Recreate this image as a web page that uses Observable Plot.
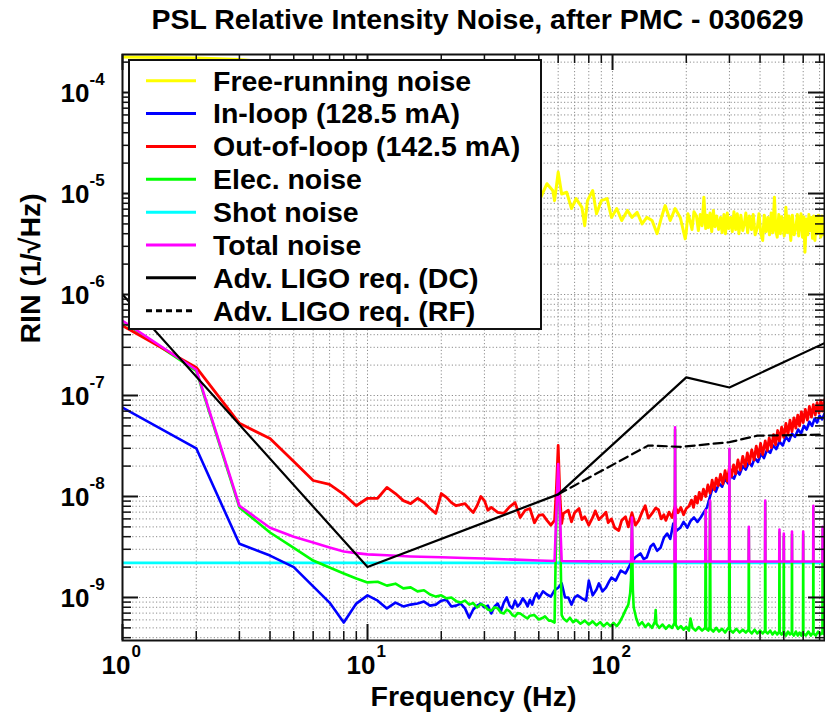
<!DOCTYPE html>
<html>
<head>
<meta charset="utf-8">
<script src="https://cdn.jsdelivr.net/npm/d3@7"></script>
<script src="https://cdn.jsdelivr.net/npm/@observablehq/plot@0.6"></script>
<style>
  body { margin: 0; background: #fff; overflow: hidden; font-family: "Liberation Sans", Arial, Helvetica, sans-serif; }
  #wrap { position: relative; width: 825px; height: 715px; }
  #title { height: 48px; box-sizing: border-box; padding: 2px 0 0 130px; text-align: center;
           font-weight: bold; font-size: 28.5px; line-height: 34px; white-space: nowrap; color: #000; }
  #legend { position: absolute; left: 128px; top: 59px; }
  #chart svg { display: block; }
</style>
</head>
<body>
<div id="wrap">
  <div id="title">PSL Relative Intensity Noise, after PMC - 030629</div>
  <div id="chart"></div>
  <div id="legend"></div>
</div>
<script>
// ---- axis ranges and ticks -------------------------------------------------
const xDomain = [1, 733];
const yDomain = [3.75e-10, 2.38e-4];
const xMajor = [1, 10, 100];
const xMinor = [2, 3, 4, 5, 6, 7, 8, 9, 20, 30, 40, 50, 60, 70, 80, 90, 200, 300, 400, 500, 600, 700];
const yMajor = [1e-9, 1e-8, 1e-7, 1e-6, 1e-5, 1e-4];
const yMinor = [4e-10, 5e-10, 6e-10, 7e-10, 8e-10, 9e-10,
  2e-9, 3e-9, 4e-9, 5e-9, 6e-9, 7e-9, 8e-9, 9e-9,
  2e-8, 3e-8, 4e-8, 5e-8, 6e-8, 7e-8, 8e-8, 9e-8,
  2e-7, 3e-7, 4e-7, 5e-7, 6e-7, 7e-7, 8e-7, 9e-7,
  2e-6, 3e-6, 4e-6, 5e-6, 6e-6, 7e-6, 8e-6, 9e-6,
  2e-5, 3e-5, 4e-5, 5e-5, 6e-5, 7e-5, 8e-5, 9e-5, 2e-4];
const xTitle = "Frequency (Hz)";
const yTitle = "RIN (1/\u221AHz)";

// ---- spectra: [frequency (Hz), RIN (1/sqrt(Hz))] ---------------------------
const freeRunning = [
  [1,2.25e-4],[2,2.2e-4],[3,2.12e-4],[4,2.0e-4],[6,1.5e-4],[10,8e-5],[15,5e-5],[25,2.6e-5],[35,1.7e-5],[45,1.25e-5],
  [51,9.2e-6],[54,1.25e-5],[57,1.07e-5],[58,8.5e-6],[60,1.63e-5],[62,9.9e-6],[65,1.03e-5],[68,7.1e-6],[71,8.9e-6],
  [75,7.3e-6],[77,4.8e-6],[79,8.5e-6],[83,1.07e-5],[86,6.3e-6],[90,8.5e-6],[95,8.9e-6],[99,5.8e-6],[104,7.1e-6],
  [109,5.4e-6],[115,6.8e-6],[120,5.8e-6],[126,6.5e-6],[132,5.0e-6],[138,5.8e-6],[145,5.4e-6],[152,4.0e-6],[159,6.0e-6],
  [164,7.6e-6],[172,5.4e-6],[180,7.1e-6],[189,5.8e-6],[198,3.56e-6],[200,4.2e-6],[203,6.3e-6],[207,5.4e-6],[211,4.4e-6],
  [215,6.6e-6],[220,6.0e-6],[224,4.3e-6],[228,6.2e-6],[232,4.8e-6],[236,9.2e-6],[240,4.5e-6],[243,6.1e-6],[246,4.6e-6],
  [250,6.4e-6],[254,4.2e-6],[258,6.8e-6],[262,4.7e-6],[266,6.0e-6],[271,4.4e-6],[276,5.8e-6],[280,4.1e-6],[285,6.2e-6],
  [289,4.0e-6],[294,6.4e-6],[298,4.5e-6],[303,5.8e-6],[308,4.2e-6],[313,6.6e-6],[318,4.4e-6],[323,6.3e-6],[328,4.0e-6],
  [334,6.1e-6],[340,4.3e-6],[345,5.0e-6],[350,6.4e-6],[356,4.1e-6],[362,6.0e-6],[369,4.4e-6],[375,6.2e-6],[382,3.9e-6],
  [390,4.6e-6],[396,6.3e-6],[403,4.0e-6],[410,3.43e-6],[416,6.1e-6],[423,4.2e-6],[430,5.8e-6],[437,3.9e-6],[444,6.4e-6],
  [451,4.1e-6],[458,9.2e-6],[464,4.3e-6],[470,3.7e-6],[477,6.2e-6],[484,4.0e-6],[490,5.9e-6],[495,5.0e-6],[502,3.8e-6],
  [510,7.3e-6],[517,4.1e-6],[525,6.0e-6],[534,3.43e-6],[542,6.1e-6],[551,3.9e-6],[560,4.6e-6],[568,6.2e-6],[575,3.8e-6],
  [580,5.0e-6],[588,6.3e-6],[596,3.7e-6],[603,5.9e-6],[610,2.62e-6],[618,5.6e-6],[626,3.9e-6],[633,6.2e-6],[640,4.3e-6],
  [648,5.8e-6],[655,3.6e-6],[663,6.0e-6],[670,3.43e-6],[678,5.9e-6],[685,4.0e-6],[692,6.1e-6],[700,5.2e-6],[708,3.7e-6],
  [716,6.0e-6],[724,3.9e-6],[733,4.3e-6]
];

const inLoop = [
  [1,7.6e-8],[2,3.0e-8],[3,3.4e-9],[4,2.6e-9],[5,2.0e-9],[6,1.29e-9],[7,8.9e-10],[8,5.65e-10],[9,8.7e-10],[10,1.05e-9],
  [11,9.3e-10],[12,7.8e-10],[13,8.9e-10],[14,8.15e-10],[15,8.5e-10],[16,8.7e-10],[17,9.1e-10],[18,8.3e-10],[19,8.5e-10],
  [20,9.3e-10],[21,9.5e-10],[22,8.15e-10],[23,8.3e-10],[24,8.7e-10],[25,7.8e-10],[26,6.3e-10],[27,7.6e-10],[28,8.3e-10],
  [29,8.7e-10],[30,8.0e-10],[31,8.3e-10],[32,6.95e-10],[33,8.15e-10],[34,8.7e-10],[35,7.3e-10],[36,8.9e-10],[37,1.0e-9],
  [38,8.3e-10],[39,7.8e-10],[40,9.3e-10],[41,8.15e-10],[42,8.7e-10],[43,9.8e-10],[44,9.1e-10],[45,8.15e-10],[46,9.5e-10],
  [47,8.5e-10],[48,1.0e-9],[49,1.1e-9],[50,9.8e-10],[52,1.15e-9],[54,1.07e-9],[56,1.02e-9],[58,1.18e-9],[60,1.25e-9],
  [62,1.38e-9],[64,1.0e-9],[66,1.0e-9],[68,8.5e-10],[70,1.0e-9],[72,1.05e-9],[75,9.8e-10],[78,9.3e-10],[80,1.47e-9],
  [83,1.05e-9],[86,1.2e-9],[88,1.38e-9],[91,1.15e-9],[94,1.25e-9],[97,1.45e-9],[99,1.57e-9],[103,1.47e-9],[108,1.85e-9],
  [113,1.73e-9],[119,2.2e-9],[124,2.5e-9],[130,2.73e-9],[134,2.4e-9],[138,2.5e-9],[143,3.2e-9],[147,3.4e-9],[152,2.9e-9],
  [157,3.1e-9],[162,3.9e-9],[167,4.3e-9],[172,3.8e-9],[177,5.4e-9],[183,4.6e-9],[189,4.9e-9],[195,5.6e-9],[202,4.9e-9],
  [208,5.7e-9],[215,6.2e-9],[222,5.6e-9],[229,6.2e-9],[236,7.0e-9],[243,7.8e-9],[250,1.0e-8],[257,1.25e-8],[264,1.12e-8],
  [272,1.35e-8],[280,1.25e-8],[288,1.5e-8],[296,1.35e-8],[305,1.6e-8],[313,1.5e-8],[322,1.8e-8],[330,1.65e-8],
  [340,2.0e-8],[350,1.85e-8],[360,2.2e-8],[370,2.0e-8],[380,2.4e-8],[392,2.2e-8],[404,2.65e-8],[415,2.4e-8],
  [427,2.9e-8],[440,2.7e-8],[452,3.2e-8],[466,2.95e-8],[480,3.5e-8],[495,3.2e-8],[510,3.9e-8],[525,3.55e-8],
  [540,4.2e-8],[556,3.9e-8],[572,4.6e-8],[588,4.2e-8],[604,5.0e-8],[620,4.6e-8],[636,5.5e-8],[652,5.0e-8],
  [668,5.9e-8],[684,5.4e-8],[700,6.3e-8],[716,5.8e-8],[733,6.6e-8]
];

const outOfLoop = [
  [1,4.9e-7],[2,1.9e-7],[3,5.3e-8],[4,3.75e-8],[5,2.22e-8],[6,1.44e-8],[7,1.32e-8],[8,1.05e-8],[9,8.1e-9],[10,9.6e-9],
  [11,9.6e-9],[12,1.23e-8],[13,1.07e-8],[14,9.1e-9],[15,8.5e-9],[16,9.6e-9],[17,8.7e-9],[18,7.6e-9],[19,6.8e-9],
  [20,1.07e-8],[21,9.8e-9],[22,8.7e-9],[23,8.1e-9],[24,8.3e-9],[25,8.5e-9],[26,7.6e-9],[27,6.95e-9],[28,8.1e-9],
  [29,1.0e-8],[30,9.1e-9],[31,7.3e-9],[32,7.8e-9],[34,6.95e-9],[36,6.8e-9],[38,7.9e-9],[40,8.7e-9],[42,6.2e-9],
  [44,7.3e-9],[46,7.6e-9],[48,5.5e-9],[50,6.5e-9],[52,6.6e-9],[54,5.8e-9],[56,5.2e-9],[58,5.8e-9],[59,1.2e-8],
  [60,3.2e-8],[61,1.0e-8],[62,5.4e-9],[63,6.8e-9],[66,7.3e-9],[68,5.6e-9],[70,6.9e-9],[73,7.6e-9],[75,5.9e-9],
  [77,6.3e-9],[80,5.2e-9],[83,6.2e-9],[85,7.2e-9],[88,5.9e-9],[91,6.4e-9],[94,7.0e-9],[96,5.5e-9],[99,6.0e-9],
  [102,4.9e-9],[106,4.6e-9],[109,5.8e-9],[113,6.3e-9],[116,5.0e-9],[120,6.9e-9],[124,5.2e-9],[128,5.8e-9],[132,7.0e-9],
  [136,8.1e-9],[140,6.1e-9],[145,6.8e-9],[150,7.7e-9],[154,7.4e-9],[158,6.0e-9],[162,6.6e-9],[165,5.8e-9],[170,7.0e-9],
  [175,6.2e-9],[180,8.0e-9],[185,6.9e-9],[190,7.8e-9],[195,6.6e-9],[200,7.6e-9],[205,8.0e-9],[210,9.2e-9],[214,7.8e-9],
  [218,1.0e-8],[222,8.6e-9],[226,1.1e-8],[230,9.3e-9],[235,1.18e-8],[240,1.0e-8],[245,1.3e-8],[250,1.08e-8],
  [255,1.45e-8],[260,1.17e-8],[265,1.52e-8],[270,1.28e-8],[276,1.66e-8],[282,1.33e-8],[288,1.8e-8],[294,1.42e-8],
  [300,1.96e-8],[306,1.58e-8],[312,2.06e-8],[318,1.68e-8],[325,2.3e-8],[332,1.82e-8],[340,2.5e-8],[348,1.98e-8],
  [355,2.7e-8],[362,2.12e-8],[370,2.9e-8],[378,2.3e-8],[386,3.15e-8],[394,2.45e-8],[402,3.35e-8],[410,2.6e-8],
  [420,3.55e-8],[428,2.85e-8],[436,3.8e-8],[445,3.05e-8],[454,4.1e-8],[463,3.25e-8],[472,4.5e-8],[480,3.55e-8],
  [490,4.85e-8],[500,3.85e-8],[510,5.3e-8],[520,4.1e-8],[530,5.7e-8],[540,4.4e-8],[550,6.0e-8],[560,4.75e-8],
  [570,6.4e-8],[580,5.0e-8],[590,6.9e-8],[600,5.4e-8],[612,7.3e-8],[624,5.7e-8],[636,7.8e-8],[648,6.1e-8],
  [660,8.1e-8],[672,6.4e-8],[684,8.5e-8],[696,6.7e-8],[708,8.9e-8],[720,7.0e-8],[733,9.1e-8]
];

const elecNoise = [
  [1,5.4e-7],[2,1.75e-7],[3,7.8e-9],[4,4.4e-9],[5,3.1e-9],[6,2.32e-9],[7,1.98e-9],[8,1.73e-9],[9,1.54e-9],[10,1.41e-9],
  [11,1.43e-9],[12,1.31e-9],[13,1.37e-9],[14,1.23e-9],[15,1.26e-9],[16,1.15e-9],[17,1.18e-9],[18,1.07e-9],[19,1.02e-9],
  [20,1.05e-9],[21,9.8e-10],[22,1.0e-9],[23,9.2e-10],[24,8.9e-10],[25,9.3e-10],[26,8.5e-10],[27,8.8e-10],[28,7.96e-10],
  [29,8.6e-10],[30,8.3e-10],[31,7.6e-10],[32,7.4e-10],[33,8.0e-10],[34,7.8e-10],[35,7.1e-10],[36,6.95e-10],[37,7.6e-10],
  [38,7.3e-10],[39,6.7e-10],[40,6.5e-10],[41,7.0e-10],[42,6.95e-10],[44,6.4e-10],[45,6.2e-10],[46,6.6e-10],[48,6.7e-10],
  [50,6.05e-10],[52,6.3e-10],[53,6.5e-10],[55,5.9e-10],[56,5.9e-10],[58,5.65e-10],[59,6.5e-9],[60,1.9e-8],[61,6.0e-9],
  [62,6.7e-10],[63,6.2e-10],[65,5.8e-10],[67,6.3e-10],[69,5.7e-10],[71,6.0e-10],[74,5.5e-10],[77,5.9e-10],[80,5.4e-10],
  [83,5.8e-10],[86,5.3e-10],[89,5.7e-10],[92,5.2e-10],[95,5.6e-10],[98,5.2e-10],[101,5.6e-10],[104,5.2e-10],[107,5.7e-10],
  [110,6.5e-10],[113,7.5e-10],[116,8.5e-10],[118,1.1e-9],[119,1.5e-9],[120,5.9e-9],[121,1.2e-9],[122,8.0e-10],
  [125,6.2e-10],[128,5.3e-10],[132,5.7e-10],[136,5.1e-10],[140,5.5e-10],[145,5.0e-10],[149,5.8e-10],[150,7.5e-10],
  [151,5.5e-10],[155,5.0e-10],[160,5.4e-10],[165,4.9e-10],[170,5.3e-10],[175,5.0e-10],[179,5.6e-10],[180,4.6e-8],
  [181,5.4e-10],[185,4.9e-10],[190,5.2e-10],[195,4.8e-10],[200,5.1e-10],[205,4.7e-10],[208,6.2e-10],[212,5.0e-10],
  [218,4.7e-10],[225,5.1e-10],[232,4.7e-10],[239,5.0e-10],[240,7.0e-9],[241,4.9e-10],[246,4.7e-10],[249,5.1e-10],
  [250,8.8e-9],[251,4.9e-10],[258,4.6e-10],[265,5.0e-10],[272,4.6e-10],[280,4.9e-10],[288,4.5e-10],[295,4.9e-10],
  [299,5.1e-10],[300,2.9e-8],[301,4.8e-10],[310,4.5e-10],[320,4.9e-10],[330,4.5e-10],[340,4.8e-10],[350,4.5e-10],
  [359,4.8e-10],[360,4.7e-9],[361,4.7e-10],[370,4.4e-10],[380,4.8e-10],[390,4.4e-10],[400,4.7e-10],[410,4.4e-10],
  [419,4.7e-10],[420,8.8e-9],[421,4.6e-10],[430,4.4e-10],[440,4.7e-10],[450,4.3e-10],[460,4.6e-10],[470,4.3e-10],
  [479,4.6e-10],[480,4.4e-9],[481,4.5e-10],[490,4.3e-10],[499,4.6e-10],[500,4.0e-9],[501,4.5e-10],[510,4.2e-10],
  [520,4.6e-10],[530,4.3e-10],[539,4.5e-10],[540,4.2e-9],[541,4.4e-10],[550,4.2e-10],[560,4.6e-10],[570,4.2e-10],
  [580,4.5e-10],[590,4.2e-10],[599,4.6e-10],[600,4.2e-9],[601,4.4e-10],[615,4.2e-10],[630,4.6e-10],[645,4.2e-10],
  [659,4.5e-10],[660,7.7e-9],[661,4.4e-10],[675,4.2e-10],[690,4.6e-10],[705,4.3e-10],[719,4.5e-10],[720,4.7e-9],
  [721,4.4e-10],[733,4.3e-10]
];

const shotNoise = [[1,2.2e-9],[733,2.2e-9]];

const totalNoise = [
  [1,5.5e-7],[2,1.8e-7],[3,8.1e-9],[4,4.9e-9],[5,4.0e-9],[6,3.5e-9],[7,3.13e-9],[8,2.85e-9],[9,2.75e-9],[10,2.67e-9],
  [12,2.62e-9],[15,2.55e-9],[20,2.5e-9],[25,2.46e-9],[30,2.43e-9],[40,2.37e-9],[50,2.32e-9],[58,2.3e-9],[59,7.0e-9],
  [60,2.1e-8],[61,6.5e-9],[62,2.3e-9],[80,2.28e-9],[100,2.27e-9],[119,2.27e-9],[120,6.2e-9],[121,2.27e-9],
  [179,2.27e-9],[180,4.85e-8],[181,2.27e-9],[239,2.27e-9],[240,7.3e-9],[241,2.27e-9],[249,2.27e-9],[250,9.1e-9],
  [251,2.27e-9],[299,2.27e-9],[300,2.96e-8],[301,2.27e-9],[359,2.27e-9],[360,5.0e-9],[361,2.27e-9],[419,2.27e-9],
  [420,9.1e-9],[421,2.27e-9],[479,2.27e-9],[480,4.7e-9],[481,2.27e-9],[499,2.27e-9],[500,4.3e-9],[501,2.27e-9],
  [539,2.27e-9],[540,4.5e-9],[541,2.27e-9],[599,2.27e-9],[600,4.5e-9],[601,2.27e-9],[659,2.27e-9],[660,8.1e-9],
  [661,2.27e-9],[719,2.27e-9],[720,5.0e-9],[721,2.27e-9],[733,2.27e-9]
];

// Advanced LIGO requirement curves
const reqDC = [[1,1.0e-6],[10,2.0e-9],[60,1.05e-8],[200,1.51e-7],[300,1.2e-7],[733,3.3e-7]];
const reqRF = [[60,1.05e-8],[140,3.2e-8],[190,3.1e-8],[300,3.45e-8],[390,4.0e-8],[733,4.1e-8]];

// legend entries in display order
const legendLabels = ["Free-running noise", "In-loop (128.5 mA)", "Out-of-loop (142.5 mA)", "Elec. noise",
  "Shot noise", "Total noise", "Adv. LIGO req. (DC)", "Adv. LIGO req. (RF)"];
const legendColors = ["#ffff00", "#0000ff", "#ff0000", "#00ff00", "#00ffff", "#ff00ff", "#000000", "#000000"];
const legendDashes = [null, null, null, null, null, null, null, "6,4"];

// ---- chart ------------------------------------------------------------------
const FONT = "'Liberation Sans', Arial, Helvetica, sans-serif";
const PW = 702, PH = 586;        // plot-area size in px
const majorLen = 16, minorLen = 9; // inward tick lengths

const lineOpts = (color, extra = {}) => ({
  x: d => d[0], y: d => d[1], stroke: color, strokeWidth: 2.6, clip: true,
  strokeLinejoin: "round", curve: "linear", ...extra
});
const exponent = d => String(Math.round(Math.log10(d)));

const chart = Plot.plot({
  width: 825, height: 667,
  marginTop: 6, marginBottom: 75, marginLeft: 122, marginRight: 1,
  x: { type: "log", domain: xDomain, axis: null },
  y: { type: "log", domain: yDomain, axis: null },
  style: { fontFamily: FONT, background: "#fff", overflow: "visible" },
  marks: [
    // dotted grid
    Plot.ruleX([...xMajor, ...xMinor], { stroke: "#8c8c8c", strokeWidth: 1, strokeDasharray: "1.2,2.2" }),
    Plot.ruleY([...yMajor, ...yMinor], { stroke: "#8c8c8c", strokeWidth: 1, strokeDasharray: "1.2,2.2" }),

    // spectra
    Plot.line(freeRunning, lineOpts(legendColors[0], { strokeWidth: 3 })),
    Plot.line(shotNoise, lineOpts(legendColors[4])),
    Plot.line(inLoop, lineOpts(legendColors[1])),
    Plot.line(elecNoise, lineOpts(legendColors[3])),
    Plot.line(outOfLoop, lineOpts(legendColors[2], { strokeWidth: 2.8 })),
    Plot.line(totalNoise, lineOpts(legendColors[5])),
    Plot.line(reqDC, lineOpts(legendColors[6], { strokeWidth: 2.2 })),
    Plot.line(reqRF, lineOpts(legendColors[7], { strokeWidth: 2.2, strokeDasharray: "9,5" })),

    // frame and inward ticks on all four sides
    Plot.frame({ stroke: "#111", strokeWidth: 2 }),
    Plot.ruleY(yMajor, { stroke: "#111", strokeWidth: 2, insetRight: PW - majorLen }),
    Plot.ruleY(yMinor, { stroke: "#111", strokeWidth: 1.5, insetRight: PW - minorLen }),
    Plot.ruleY(yMajor, { stroke: "#111", strokeWidth: 2, insetLeft: PW - majorLen }),
    Plot.ruleY(yMinor, { stroke: "#111", strokeWidth: 1.5, insetLeft: PW - minorLen }),
    Plot.ruleX(xMajor, { stroke: "#111", strokeWidth: 2, insetTop: PH - majorLen }),
    Plot.ruleX(xMinor, { stroke: "#111", strokeWidth: 1.5, insetTop: PH - minorLen }),
    Plot.ruleX(xMajor, { stroke: "#111", strokeWidth: 2, insetBottom: PH - majorLen }),
    Plot.ruleX(xMinor, { stroke: "#111", strokeWidth: 1.5, insetBottom: PH - minorLen }),

    // tick labels: "10" with a raised exponent
    Plot.text(xMajor, { x: d => d, frameAnchor: "bottom", text: () => "10", textAnchor: "end",
      dx: 8, dy: 33, fontSize: 26, fontWeight: "bold", fill: "#000" }),
    Plot.text(xMajor, { x: d => d, frameAnchor: "bottom", text: exponent, textAnchor: "start",
      dx: 9, dy: 16, fontSize: 17, fontWeight: "bold", fill: "#000" }),
    Plot.text(yMajor, { y: d => d, frameAnchor: "left", text: () => "10", textAnchor: "end",
      dx: -33, dy: 1, fontSize: 26, fontWeight: "bold", fill: "#000" }),
    Plot.text(yMajor, { y: d => d, frameAnchor: "left", text: exponent, textAnchor: "start",
      dx: -33, dy: -13, fontSize: 17, fontWeight: "bold", fill: "#000" }),

    // axis titles
    Plot.text([xTitle], { text: d => d, frameAnchor: "bottom", dy: 65, fontSize: 28.5, fontWeight: "bold", fill: "#000" }),
    Plot.text([yTitle], { text: d => d, frameAnchor: "left", rotate: -90, dx: -92, dy: -4,
      fontSize: 28.5, fontWeight: "bold", fill: "#000" })
  ]
});
document.getElementById("chart").append(chart);

// ---- legend box drawn over the upper-left of the plot -----------------------
const LW = 414, LH = 271, rowGap = 32.86, row0 = 21.7;
const leg = d3.create("svg").attr("width", LW).attr("height", LH)
  .style("font-family", FONT).style("display", "block");
leg.append("rect").attr("x", 1).attr("y", 1).attr("width", LW - 2).attr("height", LH - 2)
  .attr("fill", "#fff").attr("stroke", "#111").attr("stroke-width", 2);
const rows = leg.selectAll("g").data(legendLabels).join("g")
  .attr("transform", (d, i) => `translate(0,${row0 + i * rowGap})`);
rows.append("line").attr("x1", 18).attr("x2", 68).attr("y1", 0).attr("y2", 0)
  .attr("stroke", (d, i) => legendColors[i]).attr("stroke-width", 3)
  .attr("stroke-dasharray", (d, i) => legendDashes[i]);
rows.append("text").attr("x", 85).attr("y", 9.8).attr("font-size", 28.5).attr("font-weight", "bold")
  .attr("fill", "#000").text(d => d);
document.getElementById("legend").append(leg.node());
</script>
</body>
</html>
